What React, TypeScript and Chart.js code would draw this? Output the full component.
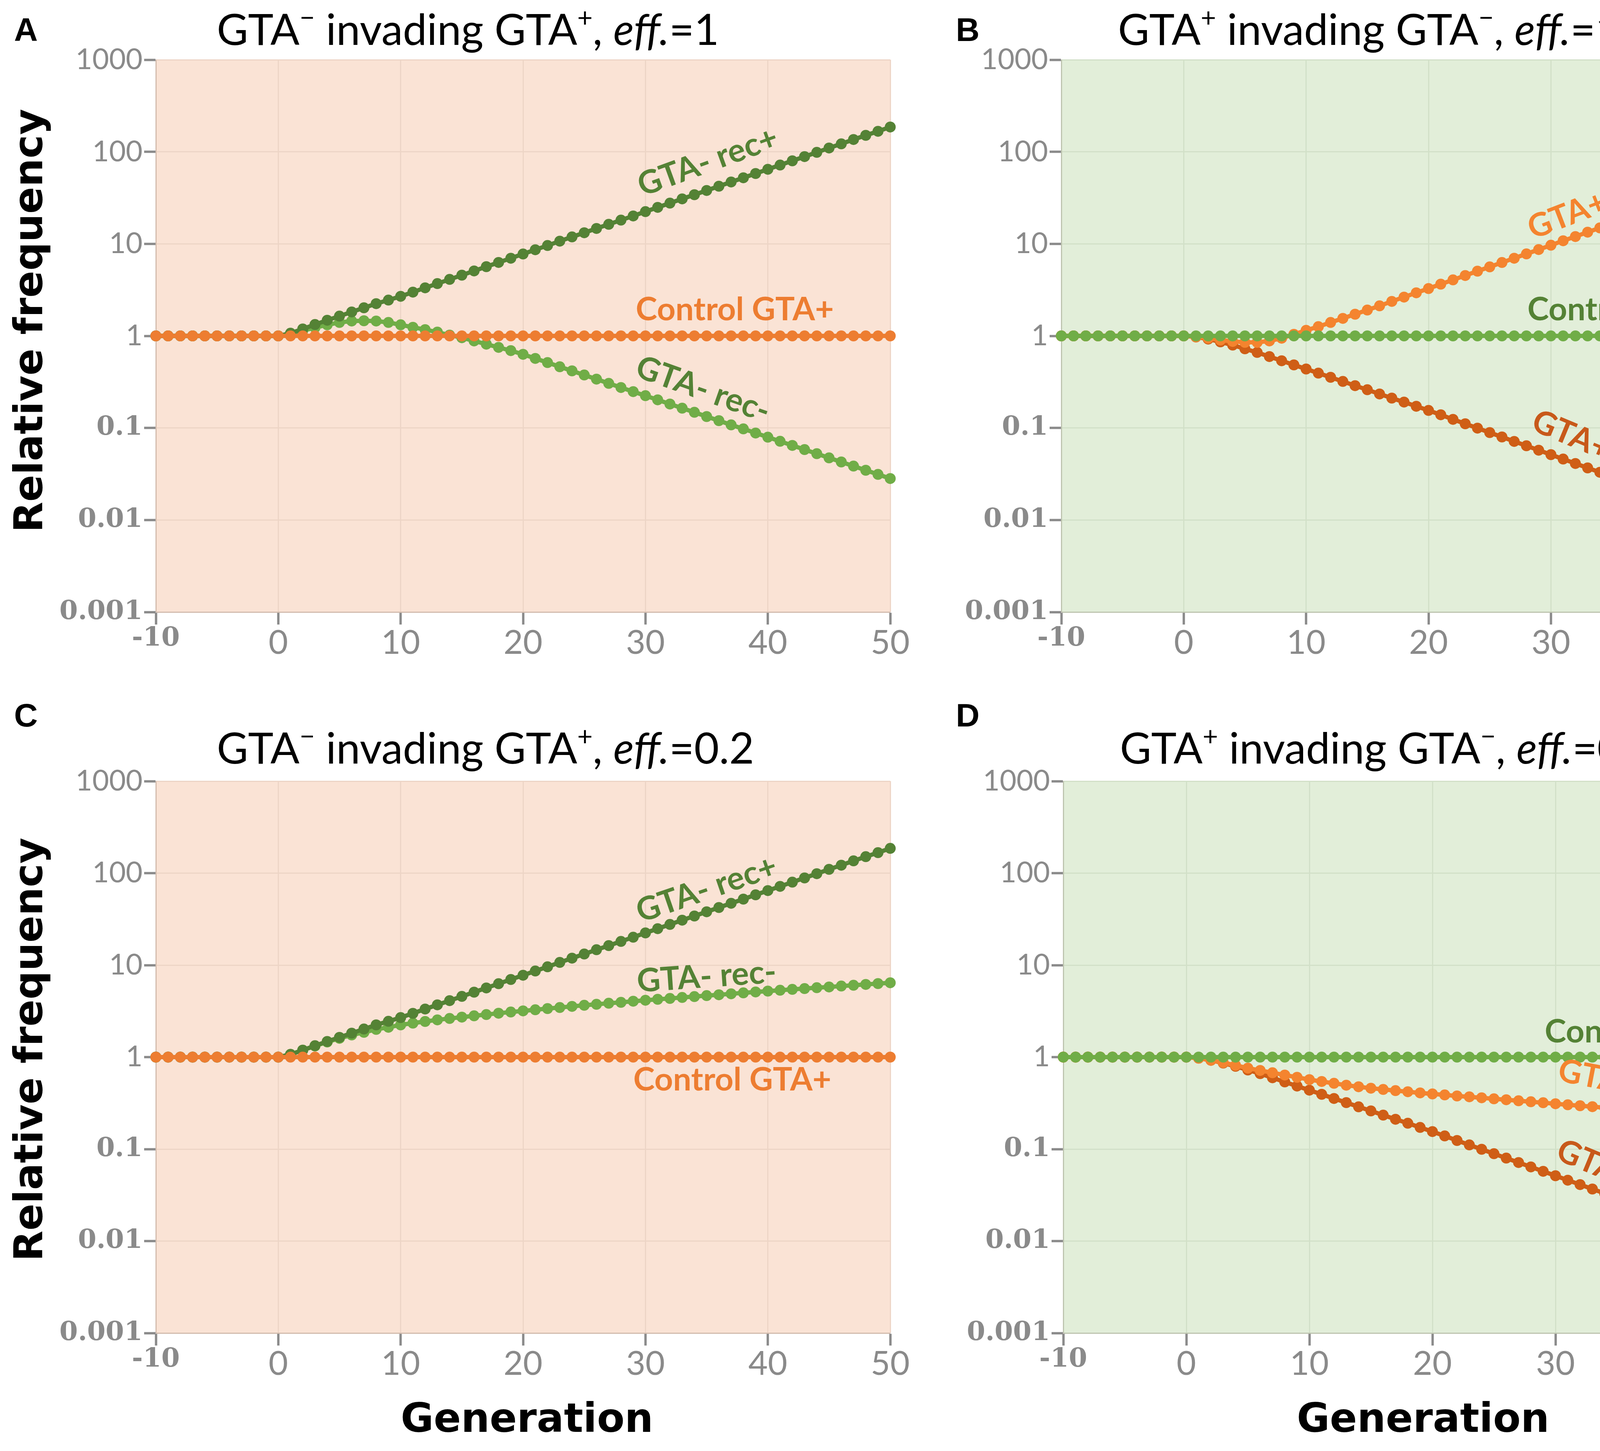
import { useEffect, useRef } from 'react'
import { Chart, registerables } from 'chart.js'
import type { Plugin } from 'chart.js'

Chart.register(...registerables)

// generations on the x axis
const generations = [
  -10, -9, -8, -7, -6, -5, -4, -3, -2, -1, 0,
  1, 2, 3, 4, 5, 6, 7, 8, 9, 10,
  11, 12, 13, 14, 15, 16, 17, 18, 19, 20,
  21, 22, 23, 24, 25, 26, 27, 28, 29, 30,
  31, 32, 33, 34, 35, 36, 37, 38, 39, 40,
  41, 42, 43, 44, 45, 46, 47, 48, 49, 50,
]

const xTickValues = [-10, 0, 10, 20, 30, 40, 50]
const yTickValues = [0.001, 0.01, 0.1, 1, 10, 100, 1000]
const yTickLabels = ['0.001', '0.01', '0.1', '1', '10', '100', '1000']

// relative frequency, one value per generation
const control = [
  1, 1, 1, 1, 1, 1, 1, 1, 1, 1, 1,
  1, 1, 1, 1, 1, 1, 1, 1, 1, 1,
  1, 1, 1, 1, 1, 1, 1, 1, 1, 1,
  1, 1, 1, 1, 1, 1, 1, 1, 1, 1,
  1, 1, 1, 1, 1, 1, 1, 1, 1, 1,
  1, 1, 1, 1, 1, 1, 1, 1, 1, 1,
]

const gtaMinusRecPlus = [
  1, 1, 1, 1, 1, 1, 1, 1, 1, 1, 1,
  1.07, 1.19, 1.33, 1.48, 1.64, 1.82, 2.02, 2.24, 2.45, 2.69,
  2.99, 3.33, 3.70, 4.11, 4.57, 5.08, 5.65, 6.28, 6.98, 7.76,
  8.63, 9.59, 10.7, 11.9, 13.2, 14.7, 16.3, 18.1, 20.1, 22.4,
  24.9, 27.7, 30.8, 34.2, 38.0, 42.3, 47.0, 52.2, 58.1, 64.6,
  71.8, 79.8, 88.7, 98.6, 110, 122, 136, 151, 167, 186,
]

const gtaMinusRecMinusEff1 = [
  1, 1, 1, 1, 1, 1, 1, 1, 1, 1, 1,
  1.05, 1.14, 1.23, 1.32, 1.40, 1.45, 1.46, 1.45, 1.40, 1.32,
  1.24, 1.17, 1.10, 1.02, 0.955, 0.881, 0.813, 0.750, 0.692, 0.631,
  0.569, 0.513, 0.462, 0.417, 0.376, 0.339, 0.305, 0.275, 0.248, 0.224,
  0.202, 0.182, 0.164, 0.148, 0.133, 0.120, 0.108, 0.0977, 0.0881, 0.0794,
  0.0716, 0.0646, 0.0582, 0.0525, 0.0473, 0.0427, 0.0385, 0.0347, 0.0313, 0.0282,
]

const gtaMinusRecMinusEff02 = [
  1, 1, 1, 1, 1, 1, 1, 1, 1, 1, 1,
  1.07, 1.19, 1.32, 1.46, 1.60, 1.74, 1.86, 2.00, 2.11, 2.24,
  2.34, 2.44, 2.54, 2.63, 2.72, 2.81, 2.90, 3.00, 3.09, 3.18,
  3.27, 3.37, 3.46, 3.56, 3.66, 3.75, 3.85, 3.94, 4.05, 4.15,
  4.25, 4.34, 4.45, 4.55, 4.66, 4.76, 4.88, 4.99, 5.11, 5.22,
  5.33, 5.45, 5.56, 5.68, 5.79, 5.92, 6.04, 6.17, 6.30, 6.43,
]

const gtaPlusRecEff1 = [
  1, 1, 1, 1, 1, 1, 1, 1, 1, 1, 1,
  0.977, 0.944, 0.902, 0.871, 0.851, 0.851, 0.881, 0.944, 1.04, 1.15,
  1.26, 1.40, 1.55, 1.72, 1.91, 2.12, 2.37, 2.64, 2.94, 3.27,
  3.65, 4.06, 4.53, 5.05, 5.62, 6.27, 6.98, 7.78, 8.67, 9.66,
  10.8, 12.0, 13.4, 14.9, 16.6, 18.5, 20.6, 23.0, 25.6, 28.5,
  31.8, 35.4, 39.4, 44.0, 49.0, 54.6, 60.8, 67.8, 75.5, 84.1,
]

const gtaPlusRecEff02 = [
  1, 1, 1, 1, 1, 1, 1, 1, 1, 1, 1,
  0.973, 0.923, 0.871, 0.813, 0.759, 0.716, 0.676, 0.638, 0.603, 0.569,
  0.543, 0.519, 0.495, 0.476, 0.459, 0.445, 0.432, 0.420, 0.408, 0.398,
  0.388, 0.378, 0.370, 0.361, 0.352, 0.344, 0.335, 0.327, 0.319, 0.311,
  0.303, 0.296, 0.289, 0.282, 0.275, 0.269, 0.262, 0.256, 0.249, 0.243,
  0.237, 0.232, 0.226, 0.220, 0.215, 0.210, 0.205, 0.200, 0.195, 0.191,
]

const gtaPlusNoRec = [
  1, 1, 1, 1, 1, 1, 1, 1, 1, 1, 1,
  0.973, 0.923, 0.861, 0.794, 0.724, 0.661, 0.596, 0.537, 0.484, 0.437,
  0.394, 0.355, 0.320, 0.288, 0.260, 0.234, 0.211, 0.191, 0.172, 0.155,
  0.139, 0.124, 0.111, 0.0995, 0.0891, 0.0798, 0.0714, 0.0640, 0.0573, 0.0513,
  0.0459, 0.0411, 0.0368, 0.0330, 0.0295, 0.0264, 0.0237, 0.0212, 0.0190, 0.0170,
  0.0152, 0.0136, 0.0122, 0.0109, 0.00977, 0.00875, 0.00783, 0.00702, 0.00628, 0.00562,
]

const orange = '#ED7D31'
const lightOrange = '#F4842F'
const darkOrange = '#CF5E16'
const darkGreen = '#548235'
const lightGreen = '#70AD47'
const labelOrangeDark = '#C8591A'

const peachBg = '#FAE3D5'
const peachGrid = '#EDD5C6'
const greenBg = '#E2EED9'
const greenGrid = '#D2E0C8'
const tickColor = '#8a8a8a'

// these tick labels are set in a heavy serif in the original figure
const serifTickLabels = ['0.001', '0.01', '0.1', '-10']

type TitlePart = { t: string; sup?: boolean; it?: boolean }
type Series = { label: string; values: number[]; color: string }
type Note = { text: string; gen: number; value: number; angle: number; color: string }

type PanelDef = {
  letter: string
  box: { left: number; top: number; width: number; height: number }
  padding: { left: number; top: number; right: number; bottom: number }
  bg: string
  grid: string
  title: TitlePart[]
  titlePos: [number, number]
  letterPos: [number, number]
  yTitle?: [number, number]
  xTitle?: [number, number]
  series: Series[]
  notes: Note[]
}

const titleMinusPlus = (eff: string): TitlePart[] => [
  { t: 'GTA' }, { t: '\u2212', sup: true }, { t: ' invading GTA' }, { t: '+', sup: true },
  { t: ', ' }, { t: 'eff.', it: true }, { t: '=' + eff },
]
const titlePlusMinus = (eff: string): TitlePart[] => [
  { t: 'GTA' }, { t: '+', sup: true }, { t: ' invading GTA' }, { t: '\u2212', sup: true },
  { t: ', ' }, { t: 'eff.', it: true }, { t: '=' + eff },
]

const panels: PanelDef[] = [
  {
    letter: 'A',
    box: { left: 0, top: 0, width: 2353, height: 1780 },
    padding: { left: 149, top: 153, right: 74, bottom: 73 },
    bg: peachBg, grid: peachGrid,
    title: titleMinusPlus('1'), titlePos: [555, 115], letterPos: [36, 105],
    yTitle: [81, 821],
    series: [
      { label: 'Control GTA+', values: control, color: orange },
      { label: 'GTA- rec+', values: gtaMinusRecPlus, color: darkGreen },
      { label: 'GTA- rec-', values: gtaMinusRecMinusEff1, color: lightGreen },
    ],
    notes: [
      { text: 'GTA- rec+', gen: 35.1, value: 78, angle: -20, color: darkGreen },
      { text: 'Control GTA+', gen: 37.3, value: 1.92, angle: 0, color: orange },
      { text: 'GTA- rec-', gen: 34.7, value: 0.262, angle: 19.5, color: darkGreen },
    ],
  },
  {
    letter: 'B',
    box: { left: 2353, top: 0, width: 2354, height: 1780 },
    padding: { left: 114, top: 153, right: 110, bottom: 73 },
    bg: greenBg, grid: greenGrid,
    title: titlePlusMinus('1'), titlePos: [509, 115], letterPos: [94, 105],
    series: [
      { label: 'Control GTA-', values: control, color: lightGreen },
      { label: 'GTA+ (rec)', values: gtaPlusRecEff1, color: lightOrange },
      { label: 'GTA+ (no rec)', values: gtaPlusNoRec, color: darkOrange },
    ],
    notes: [
      { text: 'GTA+ (rec)', gen: 34.0, value: 28, angle: -21, color: lightOrange },
      { text: 'Control GTA-', gen: 35.9, value: 1.92, angle: 0, color: darkGreen },
      { text: 'GTA+ (no rec)', gen: 36.0, value: 0.048, angle: 22.5, color: labelOrangeDark },
    ],
  },
  {
    letter: 'C',
    box: { left: 0, top: 1780, width: 2353, height: 1935 },
    padding: { left: 149, top: 220, right: 74, bottom: 162 },
    bg: peachBg, grid: peachGrid,
    title: titleMinusPlus('0.2'), titlePos: [555, 175], letterPos: [36, 80],
    yTitle: [81, 907], xTitle: [1349, 1886],
    series: [
      { label: 'Control GTA+', values: control, color: orange },
      { label: 'GTA- rec+', values: gtaMinusRecPlus, color: darkGreen },
      { label: 'GTA- rec-', values: gtaMinusRecMinusEff02, color: lightGreen },
    ],
    notes: [
      { text: 'GTA- rec+', gen: 35.0, value: 67, angle: -19, color: darkGreen },
      { text: 'GTA- rec-', gen: 35.0, value: 7.45, angle: -4, color: darkGreen },
      { text: 'Control GTA+', gen: 37.1, value: 0.565, angle: 0, color: orange },
    ],
  },
  {
    letter: 'D',
    box: { left: 2353, top: 1780, width: 2354, height: 1935 },
    padding: { left: 119, top: 220, right: 95, bottom: 162 },
    bg: greenBg, grid: greenGrid,
    title: titlePlusMinus('0.2'), titlePos: [514, 175], letterPos: [94, 80],
    xTitle: [1290, 1886],
    series: [
      { label: 'Control GTA-', values: control, color: lightGreen },
      { label: 'GTA+ (rec)', values: gtaPlusRecEff02, color: lightOrange },
      { label: 'GTA+ (no rec)', values: gtaPlusNoRec, color: darkOrange },
    ],
    notes: [
      { text: 'Control GTA-', gen: 36.9, value: 1.88, angle: 0, color: darkGreen },
      { text: 'GTA+ (rec)', gen: 36.3, value: 0.5, angle: 11, color: lightOrange },
      { text: 'GTA+ (no rec)', gen: 37.6, value: 0.039, angle: 22.5, color: labelOrangeDark },
    ],
  },
]

function textPlugin(p: PanelDef): Plugin<'line'> {
  return {
    id: 'panelText' + p.letter,
    beforeDraw(chart) {
      const { ctx, chartArea } = chart
      ctx.save()
      ctx.fillStyle = p.bg
      ctx.fillRect(chartArea.left, chartArea.top, chartArea.right - chartArea.left, chartArea.bottom - chartArea.top)
      ctx.restore()
    },
    afterDraw(chart) {
      const { ctx } = chart
      const xs = chart.scales.x
      const ys = chart.scales.y
      ctx.save()
      ctx.textBaseline = 'alphabetic'
      ctx.textAlign = 'left'
      ctx.fillStyle = '#000'
      ctx.font = 'bold 84px "Liberation Sans"'
      ctx.fillText(p.letter, p.letterPos[0], p.letterPos[1])

      let x = p.titlePos[0]
      for (const part of p.title) {
        const size = part.sup ? 68 : 110
        ctx.font = `${part.it ? 'italic ' : ''}${size}px Lato`
        ctx.fillText(part.t, x, p.titlePos[1] - (part.sup ? 46 : 0))
        x += ctx.measureText(part.t).width
      }

      if (p.yTitle) {
        ctx.save()
        ctx.font = 'bold 102px "DejaVu Sans"'
        ctx.translate(p.yTitle[0], p.yTitle[1])
        ctx.rotate(-Math.PI / 2)
        ctx.textAlign = 'center'
        ctx.textBaseline = 'middle'
        ctx.fillText('Relative frequency', 0, 0)
        ctx.restore()
      }
      if (p.xTitle) {
        ctx.font = 'bold 103px "DejaVu Sans"'
        ctx.textAlign = 'center'
        ctx.fillText('Generation', p.xTitle[0], p.xTitle[1])
      }

      ctx.font = 'bold 83px Lato'
      ctx.textAlign = 'center'
      ctx.textBaseline = 'middle'
      for (const n of p.notes) {
        ctx.save()
        ctx.translate(xs.getPixelForValue(n.gen), ys.getPixelForValue(n.value))
        ctx.rotate((n.angle * Math.PI) / 180)
        ctx.fillStyle = n.color
        ctx.fillText(n.text, 0, 0)
        ctx.restore()
      }
      ctx.restore()
    },
  }
}

function tickFont(label: string, sansSize: number) {
  return serifTickLabels.includes(label)
    ? { family: '"DejaVu Serif"', size: 68, weight: 'bold' as const }
    : { family: 'Lato', size: sansSize }
}

function Panel({ p }: { p: PanelDef }) {
  const canvasRef = useRef<HTMLCanvasElement>(null)

  useEffect(() => {
    if (!canvasRef.current) return

    const gridCommon = {
      color: p.grid,
      lineWidth: 3,
      tickLength: 32,
      tickColor: tickColor,
      tickWidth: 6,
    }

    const chart = new Chart(canvasRef.current, {
      type: 'line',
      data: {
        datasets: p.series.map(s => ({
          label: s.label,
          data: generations.map((g, i) => ({ x: g, y: s.values[i] })),
          borderColor: s.color,
          backgroundColor: s.color,
          borderWidth: 11,
          pointRadius: 14,
          pointBorderWidth: 0,
          pointBackgroundColor: s.color,
          tension: 0,
          clip: 16,
        })),
      },
      options: {
        animation: false,
        responsive: false,
        devicePixelRatio: 1,
        layout: { padding: p.padding },
        plugins: {
          legend: { display: false },
          tooltip: { enabled: false },
        },
        scales: {
          x: {
            type: 'linear',
            min: -10,
            max: 50,
            afterBuildTicks: scale => {
              scale.ticks = xTickValues.map(v => ({ value: v }))
            },
            afterFit: scale => {
              scale.height = 140
            },
            ticks: {
              font: (c: any) => tickFont(String(xTickValues[c.index]), 86),
              color: tickColor,
              padding: -4,
              maxRotation: 0,
              autoSkip: false,
              callback: value => String(value),
            },
            grid: gridCommon,
            border: { color: 'rgba(110, 90, 80, 0.2)', width: 3 },
          },
          y: {
            type: 'logarithmic',
            min: 0.001,
            max: 1000,
            afterBuildTicks: scale => {
              scale.ticks = yTickValues.map(v => ({ value: v }))
            },
            afterFit: scale => {
              scale.width = 250
            },
            ticks: {
              font: (c: any) => tickFont(yTickLabels[c.index], 74),
              color: tickColor,
              padding: 4,
              autoSkip: false,
              callback: (_value, index) => yTickLabels[index],
            },
            grid: { ...gridCommon, tickLength: 30 },
            border: { color: 'rgba(110, 90, 80, 0.2)', width: 3 },
          },
        },
      },
      plugins: [textPlugin(p)],
    })

    return () => chart.destroy()
  }, [p])

  return (
    <canvas
      ref={canvasRef}
      width={p.box.width}
      height={p.box.height}
      style={{
        position: 'absolute',
        left: p.box.left,
        top: p.box.top,
        width: p.box.width,
        height: p.box.height,
      }}
    />
  )
}

export default function App() {
  return (
    <div style={{ position: 'absolute', left: 0, top: 0, width: 4707, height: 3715, background: '#fff' }}>
      {panels.map(p => (
        <Panel key={p.letter} p={p} />
      ))}
    </div>
  )
}
